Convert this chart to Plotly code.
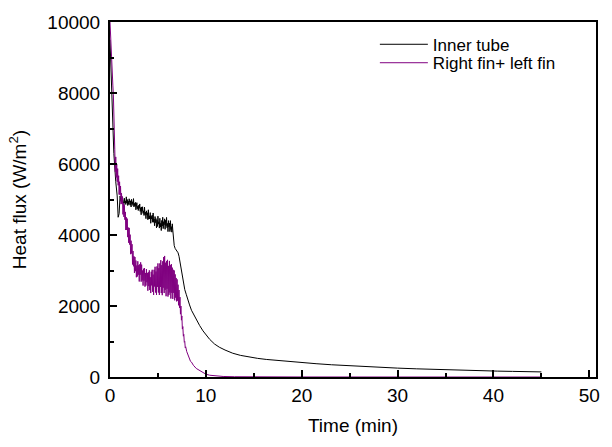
import plotly.graph_objects as go

# ---- data ----
inner_time = [
    0.0, 0.2, 0.4, 0.6, 0.75, 0.85, 0.95, 1.05, 1.15,
    1.20, 1.25, 1.30, 1.35, 1.40, 1.45, 1.50, 1.55, 1.60, 1.65, 1.70, 1.75, 1.80, 1.85, 1.90, 1.95,
    2.00, 2.05, 2.10, 2.15, 2.20, 2.25, 2.30, 2.35, 2.40, 2.45, 2.50, 2.55, 2.60, 2.65, 2.70, 2.75,
    2.80, 2.85, 2.90, 2.95, 3.00, 3.05, 3.10, 3.15, 3.20, 3.25, 3.30, 3.35, 3.40, 3.45, 3.50, 3.55,
    3.60, 3.65, 3.70, 3.75, 3.80, 3.85, 3.90, 3.95, 4.00, 4.05, 4.10, 4.15, 4.20, 4.25, 4.30, 4.35,
    4.40, 4.45, 4.50, 4.55, 4.60, 4.65, 4.70, 4.75, 4.80, 4.85, 4.90, 4.95, 5.00, 5.05, 5.10, 5.15,
    5.20, 5.25, 5.30, 5.35, 5.40, 5.45, 5.50, 5.55, 5.60, 5.65, 5.70, 5.75, 5.80, 5.85, 5.90, 5.95,
    6.00, 6.05, 6.10, 6.15, 6.20, 6.25, 6.30, 6.35, 6.40, 6.45, 6.50, 6.55,
    6.60, 6.65, 6.70, 6.80, 6.90, 7.00, 7.10, 7.20, 7.30, 7.40, 7.50, 7.60, 7.70, 7.80, 7.95,
    8.1, 8.3, 8.5, 8.75, 9.0, 9.35, 9.7, 10.0, 10.4, 10.9, 11.4, 12.0, 12.8, 13.6, 14.5, 15.4,
    16.3, 18.0, 19.7, 21.5, 23.1, 25.0, 26.6, 28.4, 30.0, 32.0, 33.5, 35.3, 37.0, 38.7, 40.4,
    42.0, 43.7, 45.0,
]
inner_flux = [
    9500, 7600, 6300, 5500, 5100, 4500, 4600, 5100, 4950,
    5040, 4910, 5075, 4940, 5000, 4830, 5035, 4900, 4960, 4860, 5075, 4900, 5000, 4830, 4955, 4860,
    5020, 4915, 4840, 4965, 4790, 5005, 4870, 4935, 4830, 5025, 4790, 4890, 4820, 4920, 4710, 4860,
    4910, 4740, 4810, 4690, 4840, 4750, 4875, 4665, 4770, 4570, 4790, 4665, 4795, 4610, 4680, 4550,
    4785, 4575, 4640, 4460, 4680, 4565, 4625, 4430, 4710, 4450, 4540, 4450, 4630, 4330, 4530, 4450,
    4560, 4360, 4620, 4360, 4450, 4260, 4520, 4350, 4460, 4200, 4420, 4240, 4530, 4305, 4370, 4195,
    4470, 4225, 4330, 4125, 4410, 4250, 4500, 4180, 4375, 4290, 4455, 4160, 4415, 4260, 4495, 4205,
    4325, 4095, 4405, 4225, 4335, 4095, 4405, 4155, 4235, 4080, 4315, 4140,
    3950, 3800, 3700, 3620, 3580, 3540, 3500, 3400, 3250, 3080, 2900, 2720, 2580, 2460, 2330,
    2180, 2030, 1880, 1740, 1620, 1450, 1300, 1190, 1060, 930, 840, 760, 670, 610, 560, 525,
    495, 450, 410, 375, 345, 315, 290, 268, 250, 230, 215, 200, 187, 176, 166,
    158, 150, 143,
]

fin_time = [
    0.00, 0.05, 0.10, 0.15, 0.20, 0.25, 0.30, 0.35, 0.40, 0.45, 0.50, 0.55, 0.60, 0.65, 0.70, 0.75,
    0.80, 0.85, 0.90, 0.95, 1.00, 1.05, 1.10, 1.15, 1.20, 1.25, 1.30, 1.35, 1.40, 1.45, 1.50,
    1.55, 1.60, 1.65, 1.70, 1.75, 1.80, 1.85, 1.90, 1.95, 2.00, 2.05, 2.10, 2.15, 2.20, 2.25,
    2.30, 2.35, 2.40, 2.45, 2.50, 2.55, 2.60, 2.65, 2.70, 2.75, 2.80, 2.85, 2.90, 2.95, 3.00,
    3.05, 3.10, 3.15, 3.20, 3.25, 3.30, 3.35, 3.40, 3.45, 3.50, 3.55, 3.60, 3.65, 3.70, 3.75,
    3.80, 3.85, 3.90, 3.95, 4.00, 4.05, 4.10, 4.15, 4.20, 4.25, 4.30, 4.35, 4.40, 4.45, 4.50,
    4.55, 4.60, 4.65, 4.70, 4.75, 4.80, 4.85, 4.90, 4.95, 5.00, 5.05, 5.10, 5.15, 5.20, 5.25,
    5.30, 5.35, 5.40, 5.45, 5.50, 5.55, 5.60, 5.65, 5.70, 5.75, 5.80, 5.85, 5.90, 5.95, 6.00,
    6.05, 6.10, 6.15, 6.20, 6.25, 6.30, 6.35, 6.40, 6.45, 6.50, 6.55, 6.60, 6.65, 6.70, 6.75,
    6.80, 6.85, 6.90, 6.95, 7.00, 7.05, 7.10, 7.15, 7.20, 7.25, 7.30, 7.35, 7.40, 7.45, 7.50,
    7.55, 7.60, 7.65, 7.70, 7.75, 7.80, 7.85, 7.90, 8.00, 8.10, 8.20, 8.30, 8.40, 8.50, 8.70,
    9.00, 9.35, 9.70, 10.0, 10.4, 11.0, 11.8, 13.0, 15.0, 20.0, 30.0, 45.0,
]
fin_flux = [
    10000, 9600, 9200, 8900, 8600, 8400, 8200, 7950, 7600, 7000, 6400, 5780, 6200, 5620, 6000, 5500,
    5870, 5400, 5670, 5140, 5500, 5130, 5380, 4870, 5180, 4880, 5080, 4580, 4900, 4510, 4840,
    4430, 4650, 4140, 4500, 4140, 4460, 3940, 4210, 3780, 4200, 3730, 4010, 3460, 3840, 3480,
    3740, 3170, 3550, 3120, 3400, 2930, 3380, 2980, 3280, 2810, 3140, 2830, 3260, 2880, 3150,
    2690, 3175, 2880, 3230, 2685, 3165, 2720, 3000, 2575, 3050, 2715, 3070, 2545, 2930, 2575,
    3040, 2670, 2930, 2430, 2950, 2560, 3005, 2450, 2810, 2365, 2965, 2580, 3020, 2400, 2885,
    2310, 3020, 2550, 3105, 2380, 2970, 2310, 3115, 2540, 3200, 2380, 3065, 2310, 3200, 2535,
    3290, 2365, 3150, 2305, 3260, 2515, 3380, 2365, 3410, 2455, 3220, 2275, 3270, 2485, 3300,
    2265, 3130, 2315, 3270, 2380, 3150, 2210, 3180, 2370, 3080, 2200, 3020, 2370, 3000, 2160,
    2890, 2235, 2790, 2130, 2750, 2150, 2600, 2020, 2450, 1950, 2250, 1770, 2000, 1600, 1720,
    1350, 1420, 1150, 1200, 980, 1000, 820, 850, 720, 650, 560, 520, 440, 420, 330,
    240, 180, 120, 80, 50, 30, 15, 8, 3, 1, 0, 0,
]

series_names = ["Inner tube", "Right fin+ left fin"]
series_colors = ["#000000", "#800080"]

x_ticks = [0, 10, 20, 30, 40, 50]
y_ticks = [0, 2000, 4000, 6000, 8000, 10000]

FONT = "Liberation Sans, Arial, sans-serif"

fig = go.Figure()
fig.add_trace(go.Scatter(x=inner_time, y=inner_flux, mode="lines", name=series_names[0],
                         line=dict(color=series_colors[0], width=1), legend="legend"))
fig.add_trace(go.Scatter(x=fin_time, y=fin_flux, mode="lines", name=series_names[1],
                         line=dict(color=series_colors[1], width=1), legend="legend2"))

axis_common = dict(
    showline=True, linecolor="black", linewidth=2, mirror=True,
    ticks="inside", tickcolor="black", tickwidth=2, ticklen=7,
    showgrid=False, zeroline=False,
    tickfont=dict(family=FONT, size=19, color="black"),
)

fig.update_xaxes(
    range=[0, 50.7], tickvals=x_ticks, ticktext=[str(v) for v in x_ticks],
    minor=dict(ticks="inside", dtick=5, tick0=0, ticklen=4, tickwidth=2, tickcolor="black"),
    title=dict(text="Time (min)", font=dict(family=FONT, size=19, color="black"), standoff=14),
    **axis_common,
)
fig.update_yaxes(
    range=[0, 10000], tickvals=y_ticks, ticktext=[str(v) for v in y_ticks],
    minor=dict(ticks="inside", dtick=1000, tick0=0, ticklen=4, tickwidth=2, tickcolor="black"),
    title=dict(text="Heat flux (W/m<sup>2</sup>)", font=dict(family=FONT, size=19, color="black"),
               standoff=16),
    ticklabelstandoff=4,
    **axis_common,
)

legend_style = dict(xanchor="left", yanchor="middle", bgcolor="rgba(0,0,0,0)", borderwidth=0,
                    itemwidth=48, font=dict(family=FONT, size=17, color="black"))

fig.update_layout(
    width=612, height=447,
    margin=dict(l=110, r=12, t=16, b=70),
    paper_bgcolor="white", plot_bgcolor="white",
    showlegend=True,
    legend=dict(x=0.545, y=0.936, **legend_style),
    legend2=dict(x=0.545, y=0.884, **legend_style),
)

fig.write_html("out.html")
